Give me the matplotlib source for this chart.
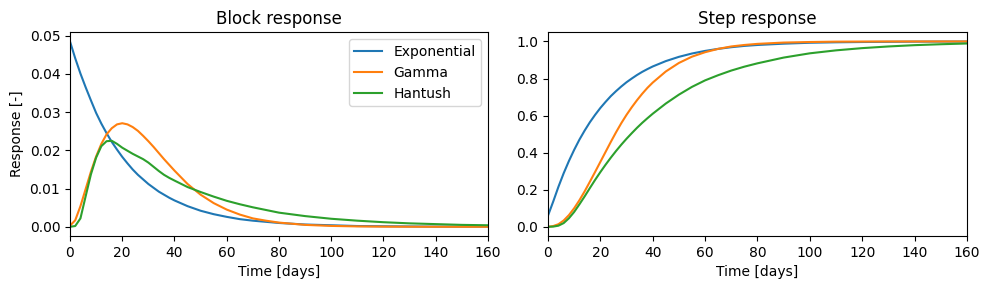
import matplotlib
matplotlib.use("Agg")
import matplotlib.pyplot as plt

# time axis (days)
t = [0, 2, 4, 6, 8, 10, 12, 14, 16, 18, 20, 22, 24, 26, 28, 30, 32, 34, 36, 38, 40,
     45, 50, 55, 60, 65, 70, 75, 80, 90, 100, 110, 120, 130, 140, 150, 160]

# block responses
block_exp = [0.0485, 0.0441, 0.0401, 0.0365, 0.0331, 0.0298, 0.0270, 0.0245, 0.0222, 0.0202,
             0.0183, 0.0166, 0.0150, 0.0136, 0.0124, 0.0112, 0.0102, 0.0092, 0.0084, 0.0076,
             0.0069, 0.0054, 0.0042, 0.0033, 0.0026, 0.0020, 0.0016, 0.0013, 0.0010, 0.0006,
             0.0004, 0.0002, 0.00014, 0.00009, 0.00005, 0.00003, 0.00002]
block_gamma = [0.0003, 0.0017, 0.0054, 0.0099, 0.0144, 0.0184, 0.0217, 0.0242, 0.0258, 0.0268,
               0.0271, 0.0268, 0.0261, 0.0251, 0.0238, 0.0224, 0.0209, 0.0193, 0.0177, 0.0162,
               0.0147, 0.0112, 0.0084, 0.0062, 0.0045, 0.0032, 0.0022, 0.0016, 0.0011, 0.0005,
               0.00023, 0.0001, 0.00004, 0.00002, 0.00001, 0.0, 0.0]
block_hantush = [0.0, 0.0002, 0.0022, 0.0080, 0.0137, 0.0181, 0.0211, 0.0224, 0.0225, 0.0217,
                 0.0207, 0.0199, 0.0191, 0.0184, 0.0177, 0.0168, 0.0157, 0.0146, 0.0136, 0.0128,
                 0.0121, 0.0104, 0.0091, 0.0079, 0.0068, 0.0059, 0.0051, 0.0044, 0.0037, 0.0028,
                 0.0021, 0.0016, 0.0012, 0.0009, 0.0007, 0.0005, 0.0004]

# step responses
step_exp = [0.060, 0.136, 0.216, 0.289, 0.355, 0.415, 0.470, 0.519, 0.564, 0.604,
            0.641, 0.674, 0.705, 0.732, 0.757, 0.780, 0.800, 0.819, 0.836, 0.851,
            0.865, 0.894, 0.917, 0.935, 0.949, 0.960, 0.969, 0.976, 0.981, 0.988,
            0.993, 0.9955, 0.997, 0.998, 0.999, 0.9994, 0.9996]
step_gamma = [0.000, 0.004, 0.014, 0.034, 0.063, 0.100, 0.143, 0.191, 0.243, 0.296,
              0.350, 0.404, 0.458, 0.510, 0.559, 0.604, 0.645, 0.683, 0.718, 0.750,
              0.778, 0.838, 0.884, 0.918, 0.942, 0.960, 0.973, 0.981, 0.987, 0.994,
              0.997, 0.999, 0.9995, 1.0, 1.0, 1.0, 1.0]
step_hantush = [0.000, 0.001, 0.006, 0.020, 0.046, 0.080, 0.121, 0.164, 0.209, 0.253,
                0.295, 0.335, 0.373, 0.409, 0.443, 0.475, 0.505, 0.534, 0.561, 0.586,
                0.610, 0.665, 0.713, 0.755, 0.790, 0.818, 0.843, 0.864, 0.882, 0.913,
                0.936, 0.952, 0.964, 0.973, 0.980, 0.985, 0.989]

labels = ["Exponential", "Gamma", "Hantush"]

fig = plt.figure(figsize=(9.9, 2.9), dpi=100)
ax1 = fig.add_axes([0.0707, 0.186, 0.4222, 0.703])
ax2 = fig.add_axes([0.5535, 0.186, 0.4232, 0.703])

for y, lab in zip([block_exp, block_gamma, block_hantush], labels):
    ax1.plot(t, y, label=lab)
for y, lab in zip([step_exp, step_gamma, step_hantush], labels):
    ax2.plot(t, y, label=lab)

ax1.set_title("Block response")
ax1.set_ylabel("Response [-]")
ax1.set_xlabel("Time [days]")
ax1.set_xlim(0, 160)
ax1.legend(loc="upper right")

ax2.set_title("Step response")
ax2.set_xlabel("Time [days]")
ax2.set_xlim(0, 160)

fig.savefig("out.png", dpi=100)
